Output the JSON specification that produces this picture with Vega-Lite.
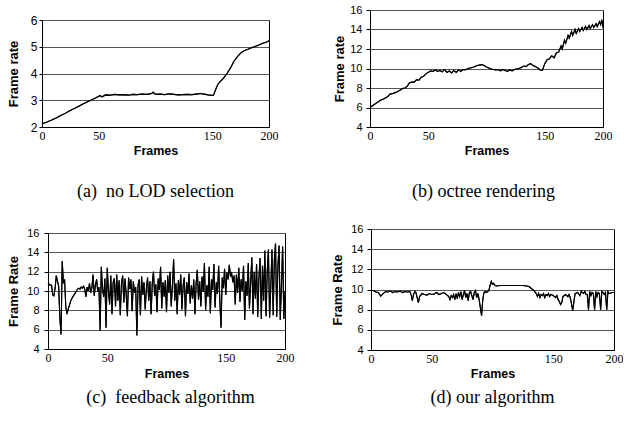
{
  "$schema": "https://vega.github.io/schema/vega-lite/v6.json",
  "background": "white",
  "padding": {"left": 6, "top": 4, "right": 0, "bottom": 5},
  "config": {
    "font": "Liberation Sans",
    "view": {"stroke": null},
    "axis": {"domainColor": "black", "domainWidth": 1, "tickColor": "black", "gridColor": "#555", "gridWidth": 1, "labelColor": "black", "titleColor": "black", "labelFlush": false},
    "axisX": {"labelFont": "Liberation Serif", "labelFontSize": 12, "titleFont": "Liberation Sans", "titleFontSize": 12.5, "titleFontWeight": "bold", "grid": false, "ticks": false, "tickSize": 0, "labelPadding": 3, "titleBaseline": "middle"},
    "axisY": {"labelFont": "Liberation Sans", "labelFontSize": 11, "titleFont": "Liberation Sans", "titleFontSize": 13, "titleFontWeight": "bold", "tickSize": 4, "labelPadding": 4},
    "title": {"font": "Liberation Serif", "fontSize": 18, "fontWeight": "normal", "color": "black", "anchor": "middle"},
    "line": {"color": "black", "strokeWidth": 1.1}
  },
  "datasets": {
    "a": [{"f":0,"v":2.12},{"f":4,"v":2.18},{"f":8,"v":2.25},{"f":12,"v":2.33},{"f":16,"v":2.42},{"f":20,"v":2.5},{"f":24,"v":2.6},{"f":28,"v":2.68},{"f":32,"v":2.77},{"f":36,"v":2.86},{"f":40,"v":2.94},{"f":44,"v":3.02},{"f":48,"v":3.1},{"f":51,"v":3.17},{"f":53,"v":3.13},{"f":56,"v":3.2},{"f":60,"v":3.19},{"f":64,"v":3.22},{"f":68,"v":3.2},{"f":72,"v":3.21},{"f":76,"v":3.19},{"f":80,"v":3.22},{"f":84,"v":3.21},{"f":88,"v":3.23},{"f":92,"v":3.22},{"f":96,"v":3.24},{"f":98,"v":3.3},{"f":100,"v":3.22},{"f":104,"v":3.23},{"f":108,"v":3.21},{"f":112,"v":3.24},{"f":116,"v":3.22},{"f":120,"v":3.2},{"f":124,"v":3.21},{"f":128,"v":3.22},{"f":132,"v":3.21},{"f":136,"v":3.23},{"f":140,"v":3.25},{"f":144,"v":3.22},{"f":148,"v":3.19},{"f":151,"v":3.18},{"f":153,"v":3.4},{"f":155,"v":3.6},{"f":157,"v":3.7},{"f":160,"v":3.83},{"f":163,"v":4.0},{"f":166,"v":4.2},{"f":169,"v":4.45},{"f":172,"v":4.62},{"f":175,"v":4.76},{"f":178,"v":4.85},{"f":181,"v":4.9},{"f":184,"v":4.95},{"f":187,"v":5.0},{"f":190,"v":5.05},{"f":193,"v":5.1},{"f":196,"v":5.15},{"f":198,"v":5.18},{"f":200,"v":5.22}],
    "b": [{"f":0,"v":6.0},{"f":3,"v":6.25},{"f":6,"v":6.5},{"f":9,"v":6.75},{"f":12,"v":6.9},{"f":15,"v":7.1},{"f":17,"v":7.35},{"f":20,"v":7.45},{"f":23,"v":7.6},{"f":26,"v":7.8},{"f":28,"v":7.95},{"f":30,"v":8.0},{"f":32,"v":8.2},{"f":34,"v":8.55},{"f":36,"v":8.6},{"f":38,"v":8.6},{"f":40,"v":8.85},{"f":42,"v":8.8},{"f":44,"v":9.1},{"f":46,"v":9.2},{"f":48,"v":9.45},{"f":50,"v":9.6},{"f":52,"v":9.75},{"f":54,"v":9.7},{"f":56,"v":9.85},{"f":58,"v":9.7},{"f":60,"v":9.8},{"f":62,"v":9.65},{"f":64,"v":9.9},{"f":66,"v":9.6},{"f":68,"v":9.75},{"f":70,"v":9.55},{"f":72,"v":9.8},{"f":74,"v":9.6},{"f":76,"v":9.85},{"f":78,"v":9.7},{"f":80,"v":9.9},{"f":82,"v":9.85},{"f":84,"v":10.0},{"f":86,"v":10.05},{"f":88,"v":10.1},{"f":90,"v":10.2},{"f":92,"v":10.3},{"f":94,"v":10.35},{"f":96,"v":10.4},{"f":98,"v":10.3},{"f":100,"v":10.15},{"f":102,"v":10.05},{"f":104,"v":9.95},{"f":106,"v":9.9},{"f":108,"v":9.85},{"f":110,"v":9.9},{"f":112,"v":9.75},{"f":114,"v":9.9},{"f":116,"v":9.8},{"f":118,"v":9.7},{"f":120,"v":9.85},{"f":122,"v":9.75},{"f":124,"v":9.9},{"f":126,"v":9.95},{"f":128,"v":10.0},{"f":130,"v":10.1},{"f":132,"v":10.25},{"f":134,"v":10.2},{"f":136,"v":10.4},{"f":138,"v":10.5},{"f":140,"v":10.3},{"f":142,"v":10.2},{"f":144,"v":10.05},{"f":146,"v":9.85},{"f":148,"v":9.8},{"f":150,"v":10.5},{"f":152,"v":10.9},{"f":154,"v":11.0},{"f":156,"v":11.3},{"f":158,"v":11.1},{"f":160,"v":11.6},{"f":162,"v":11.7},{"f":164,"v":12.3},{"f":165,"v":12.0},{"f":167,"v":12.9},{"f":168,"v":12.6},{"f":170,"v":13.4},{"f":171,"v":13.1},{"f":173,"v":13.8},{"f":174,"v":13.4},{"f":176,"v":14.0},{"f":177,"v":13.6},{"f":179,"v":14.1},{"f":180,"v":13.8},{"f":182,"v":14.2},{"f":183,"v":13.9},{"f":185,"v":14.3},{"f":186,"v":14.0},{"f":188,"v":14.4},{"f":189,"v":14.1},{"f":191,"v":14.5},{"f":192,"v":14.2},{"f":194,"v":14.6},{"f":195,"v":14.3},{"f":197,"v":14.8},{"f":198,"v":14.5},{"f":199,"v":15.0},{"f":200,"v":14.2}],
    "c": [{"f":0,"v":10.6},{"f":1,"v":10.7},{"f":2,"v":10.6},{"f":3,"v":10.6},{"f":4,"v":9.6},{"f":5,"v":9.5},{"f":6,"v":10.3},{"f":7,"v":11.6},{"f":8,"v":11.0},{"f":9,"v":10.5},{"f":10,"v":7.2},{"f":11,"v":5.5},{"f":12,"v":13.1},{"f":13,"v":10.8},{"f":14,"v":11.2},{"f":15,"v":8.4},{"f":16,"v":7.6},{"f":17,"v":8.1},{"f":18,"v":8.5},{"f":19,"v":8.9},{"f":20,"v":9.2},{"f":21,"v":9.4},{"f":22,"v":9.6},{"f":23,"v":9.8},{"f":24,"v":10.0},{"f":25,"v":10.2},{"f":26,"v":10.3},{"f":27,"v":10.2},{"f":28,"v":10.4},{"f":29,"v":10.3},{"f":30,"v":10.5},{"f":31,"v":10.2},{"f":32,"v":9.4},{"f":33,"v":10.4},{"f":34,"v":10.0},{"f":35,"v":10.8},{"f":36,"v":9.8},{"f":37,"v":10.3},{"f":38,"v":11.7},{"f":39,"v":9.5},{"f":40,"v":10.6},{"f":41,"v":11.2},{"f":42,"v":9.9},{"f":43,"v":10.4},{"f":44,"v":5.9},{"f":45,"v":12.5},{"f":46,"v":10.2},{"f":47,"v":9.4},{"f":48,"v":11.3},{"f":49,"v":6.2},{"f":50,"v":12.4},{"f":51,"v":10.0},{"f":52,"v":8.6},{"f":53,"v":11.6},{"f":54,"v":7.6},{"f":55,"v":10.9},{"f":56,"v":11.3},{"f":57,"v":8.4},{"f":58,"v":11.7},{"f":59,"v":9.0},{"f":60,"v":11.1},{"f":61,"v":7.5},{"f":62,"v":10.8},{"f":63,"v":11.6},{"f":64,"v":8.8},{"f":65,"v":11.3},{"f":66,"v":9.6},{"f":67,"v":7.4},{"f":68,"v":11.4},{"f":69,"v":10.2},{"f":70,"v":11.2},{"f":71,"v":7.9},{"f":72,"v":11.0},{"f":73,"v":9.8},{"f":74,"v":10.4},{"f":75,"v":5.4},{"f":76,"v":10.6},{"f":77,"v":11.2},{"f":78,"v":7.5},{"f":79,"v":11.5},{"f":80,"v":9.6},{"f":81,"v":10.9},{"f":82,"v":8.1},{"f":83,"v":10.2},{"f":84,"v":11.4},{"f":85,"v":9.0},{"f":86,"v":11.0},{"f":87,"v":7.6},{"f":88,"v":10.8},{"f":89,"v":12.0},{"f":90,"v":9.5},{"f":91,"v":10.7},{"f":92,"v":7.8},{"f":93,"v":11.3},{"f":94,"v":10.1},{"f":95,"v":12.5},{"f":96,"v":8.2},{"f":97,"v":10.9},{"f":98,"v":9.4},{"f":99,"v":11.1},{"f":100,"v":7.8},{"f":101,"v":11.6},{"f":102,"v":9.8},{"f":103,"v":12.0},{"f":104,"v":8.4},{"f":105,"v":10.6},{"f":106,"v":13.3},{"f":107,"v":9.0},{"f":108,"v":10.8},{"f":109,"v":7.6},{"f":110,"v":11.1},{"f":111,"v":9.6},{"f":112,"v":11.7},{"f":113,"v":8.1},{"f":114,"v":10.5},{"f":115,"v":11.4},{"f":116,"v":7.4},{"f":117,"v":10.9},{"f":118,"v":9.7},{"f":119,"v":11.8},{"f":120,"v":8.7},{"f":121,"v":10.6},{"f":122,"v":9.2},{"f":123,"v":11.2},{"f":124,"v":7.6},{"f":125,"v":10.8},{"f":126,"v":12.2},{"f":127,"v":9.1},{"f":128,"v":11.0},{"f":129,"v":8.4},{"f":130,"v":11.5},{"f":131,"v":9.9},{"f":132,"v":12.9},{"f":133,"v":8.0},{"f":134,"v":10.6},{"f":135,"v":9.4},{"f":136,"v":12.5},{"f":137,"v":7.7},{"f":138,"v":11.2},{"f":139,"v":10.1},{"f":140,"v":12.8},{"f":141,"v":8.3},{"f":142,"v":10.9},{"f":143,"v":9.7},{"f":144,"v":12.6},{"f":145,"v":9.0},{"f":146,"v":6.2},{"f":147,"v":11.4},{"f":148,"v":10.3},{"f":149,"v":12.3},{"f":150,"v":9.6},{"f":151,"v":11.9},{"f":152,"v":11.2},{"f":153,"v":12.7},{"f":154,"v":11.5},{"f":155,"v":11.8},{"f":156,"v":10.9},{"f":157,"v":11.6},{"f":158,"v":8.6},{"f":159,"v":11.7},{"f":160,"v":9.8},{"f":161,"v":12.4},{"f":162,"v":8.9},{"f":163,"v":11.2},{"f":164,"v":10.0},{"f":165,"v":12.6},{"f":166,"v":7.0},{"f":167,"v":11.0},{"f":168,"v":9.5},{"f":169,"v":12.9},{"f":170,"v":8.2},{"f":171,"v":10.8},{"f":172,"v":13.5},{"f":173,"v":7.6},{"f":174,"v":12.0},{"f":175,"v":9.2},{"f":176,"v":12.8},{"f":177,"v":7.3},{"f":178,"v":11.4},{"f":179,"v":13.4},{"f":180,"v":7.1},{"f":181,"v":12.6},{"f":182,"v":9.0},{"f":183,"v":14.2},{"f":184,"v":7.4},{"f":185,"v":12.0},{"f":186,"v":14.3},{"f":187,"v":7.2},{"f":188,"v":10.4},{"f":189,"v":14.3},{"f":190,"v":7.5},{"f":191,"v":13.2},{"f":192,"v":14.9},{"f":193,"v":7.3},{"f":194,"v":12.5},{"f":195,"v":14.7},{"f":196,"v":7.0},{"f":197,"v":10.6},{"f":198,"v":14.6},{"f":199,"v":7.1},{"f":200,"v":10.0}],
    "d": [{"f":0,"v":9.9},{"f":2,"v":9.9},{"f":4,"v":9.75},{"f":6,"v":9.7},{"f":8,"v":9.35},{"f":10,"v":9.6},{"f":12,"v":9.8},{"f":14,"v":9.75},{"f":16,"v":9.85},{"f":18,"v":9.7},{"f":20,"v":9.8},{"f":22,"v":9.75},{"f":24,"v":9.85},{"f":26,"v":9.7},{"f":28,"v":9.8},{"f":30,"v":9.75},{"f":32,"v":9.8},{"f":33,"v":9.5},{"f":34,"v":8.9},{"f":35,"v":9.5},{"f":36,"v":9.8},{"f":37,"v":9.7},{"f":38,"v":9.2},{"f":39,"v":8.7},{"f":40,"v":9.3},{"f":42,"v":9.6},{"f":44,"v":9.5},{"f":46,"v":9.45},{"f":48,"v":9.6},{"f":50,"v":9.5},{"f":52,"v":9.55},{"f":54,"v":9.7},{"f":56,"v":9.5},{"f":58,"v":9.6},{"f":60,"v":9.7},{"f":62,"v":9.5},{"f":64,"v":9.3},{"f":65,"v":9.0},{"f":66,"v":9.4},{"f":67,"v":9.2},{"f":68,"v":9.5},{"f":69,"v":9.0},{"f":70,"v":9.6},{"f":71,"v":9.1},{"f":72,"v":9.7},{"f":73,"v":9.3},{"f":74,"v":9.8},{"f":75,"v":9.0},{"f":76,"v":9.5},{"f":77,"v":9.9},{"f":78,"v":9.2},{"f":79,"v":9.6},{"f":80,"v":8.9},{"f":81,"v":9.7},{"f":82,"v":9.8},{"f":83,"v":9.4},{"f":84,"v":9.0},{"f":85,"v":9.7},{"f":86,"v":9.9},{"f":87,"v":9.2},{"f":88,"v":9.6},{"f":89,"v":9.0},{"f":90,"v":8.2},{"f":91,"v":7.4},{"f":92,"v":9.0},{"f":93,"v":9.7},{"f":94,"v":9.8},{"f":95,"v":9.7},{"f":96,"v":9.8},{"f":97,"v":9.9},{"f":98,"v":10.4},{"f":99,"v":10.8},{"f":100,"v":10.5},{"f":101,"v":10.6},{"f":102,"v":10.4},{"f":104,"v":10.35},{"f":106,"v":10.4},{"f":110,"v":10.4},{"f":115,"v":10.4},{"f":120,"v":10.4},{"f":125,"v":10.4},{"f":128,"v":10.35},{"f":130,"v":10.3},{"f":132,"v":10.1},{"f":134,"v":9.9},{"f":136,"v":9.6},{"f":137,"v":9.3},{"f":138,"v":9.6},{"f":139,"v":9.2},{"f":140,"v":9.5},{"f":141,"v":9.4},{"f":142,"v":9.6},{"f":143,"v":9.2},{"f":144,"v":9.5},{"f":145,"v":9.4},{"f":146,"v":9.6},{"f":147,"v":9.3},{"f":148,"v":9.5},{"f":150,"v":9.4},{"f":152,"v":9.2},{"f":153,"v":9.4},{"f":154,"v":9.0},{"f":155,"v":8.8},{"f":156,"v":8.5},{"f":157,"v":8.7},{"f":158,"v":9.3},{"f":160,"v":9.5},{"f":162,"v":9.3},{"f":163,"v":9.5},{"f":164,"v":9.2},{"f":165,"v":8.6},{"f":166,"v":7.9},{"f":167,"v":8.8},{"f":168,"v":9.6},{"f":170,"v":9.7},{"f":172,"v":9.4},{"f":173,"v":9.8},{"f":175,"v":9.6},{"f":176,"v":9.8},{"f":177,"v":9.5},{"f":178,"v":9.5},{"f":179,"v":8.0},{"f":180,"v":9.8},{"f":181,"v":9.4},{"f":182,"v":9.7},{"f":183,"v":9.6},{"f":184,"v":8.0},{"f":185,"v":9.8},{"f":186,"v":9.3},{"f":187,"v":9.7},{"f":188,"v":9.6},{"f":189,"v":8.0},{"f":190,"v":9.8},{"f":191,"v":9.7},{"f":192,"v":9.5},{"f":193,"v":9.7},{"f":194,"v":8.0},{"f":195,"v":9.8},{"f":196,"v":9.6},{"f":197,"v":9.6},{"f":198,"v":9.7},{"f":200,"v":9.7}]
  },
  "spacing": 22,
  "vconcat": [
    {
      "hconcat": [
        {
          "width": 227, "height": 117,
          "data": {"name": "a"},
          "title": {"text": "(a)\u00a0 no LOD selection", "orient": "bottom", "baseline": "top", "offset": 26},
          "encoding": {
            "x": {"field": "f", "type": "quantitative", "scale": {"domain": [0, 200], "nice": false, "zero": false}, "axis": {"values": [0, 50, 150, 200], "title": "Frames", "titleY": 23}},
            "y": {"field": "v", "type": "quantitative", "scale": {"domain": [2, 6], "nice": false, "zero": false, "range": [117, 10]}, "axis": {"values": [2, 3, 4, 5, 6], "title": "Frame rate", "titleX": -22, "labelFontSize": 12, "tickSize": 3, "labelPadding": 2}}
          },
          "layer": [
            {"mark": {"type": "line"}},
            {"mark": {"type": "line"}, "encoding": {"y": {"field": "v", "type": "quantitative", "scale": {"domain": [2, 6], "nice": false, "zero": false, "range": [117, 10]}, "axis": {"orient": "right", "labels": false, "ticks": false, "grid": false, "title": null, "domain": true}}}}
          ],
          "resolve": {"axis": {"y": "independent"}}
        },
        {
          "width": 233, "height": 117,
          "data": {"name": "b"},
          "title": {"text": "(b) octree rendering", "orient": "bottom", "baseline": "top", "offset": 26, "dx": -3},
          "encoding": {
            "x": {"field": "f", "type": "quantitative", "scale": {"domain": [0, 200], "nice": false, "zero": false}, "axis": {"values": [0, 50, 150, 200], "title": "Frames", "titleY": 23}},
            "y": {"field": "v", "type": "quantitative", "scale": {"domain": [4, 16], "nice": false, "zero": false}, "axis": {"values": [4, 6, 8, 10, 12, 14, 16], "title": "Frame rate", "titleX": -24}}
          },
          "layer": [
            {"mark": {"type": "line"}},
            {"mark": {"type": "line"}, "encoding": {"y": {"field": "v", "type": "quantitative", "scale": {"domain": [4, 16], "nice": false, "zero": false}, "axis": {"orient": "right", "labels": false, "ticks": false, "grid": false, "title": null, "domain": true}}}}
          ],
          "resolve": {"axis": {"y": "independent"}}
        }
      ],
      "spacing": 55
    },
    {
      "hconcat": [
        {
          "width": 243, "height": 120,
          "data": {"name": "c"},
          "title": {"text": "(c)\u00a0 feedback algorithm", "orient": "bottom", "baseline": "top", "offset": 9, "dx": 7},
          "encoding": {
            "x": {"field": "f", "type": "quantitative", "scale": {"domain": [0, 200], "nice": false, "zero": false, "range": [6, 243]}, "axis": {"values": [0, 50, 150, 200], "title": "Frames", "titleY": 24}},
            "y": {"field": "v", "type": "quantitative", "scale": {"domain": [4, 16], "nice": false, "zero": false, "range": [120, 4]}, "axis": {"values": [4, 6, 8, 10, 12, 14, 16], "title": "Frame Rate", "titleX": -28, "labelPadding": 5, "offset": -6}}
          },
          "layer": [
            {"mark": {"type": "line"}},
            {"mark": {"type": "line"}, "encoding": {"y": {"field": "v", "type": "quantitative", "scale": {"domain": [4, 16], "nice": false, "zero": false, "range": [120, 4]}, "axis": {"orient": "right", "labels": false, "ticks": false, "grid": false, "title": null, "domain": true}}}}
          ],
          "resolve": {"axis": {"y": "independent"}}
        },
        {
          "width": 243, "height": 121,
          "data": {"name": "d"},
          "title": {"text": "(d) our algorithm", "orient": "bottom", "baseline": "top", "offset": 9},
          "encoding": {
            "x": {"field": "f", "type": "quantitative", "scale": {"domain": [0, 200], "nice": false, "zero": false}, "axis": {"values": [0, 50, 150, 200], "title": "Frames", "titleY": 23}},
            "y": {"field": "v", "type": "quantitative", "scale": {"domain": [4, 16], "nice": false, "zero": false}, "axis": {"values": [4, 6, 8, 10, 12, 14, 16], "title": "Frame Rate", "titleX": -27}}
          },
          "layer": [
            {"mark": {"type": "line"}},
            {"mark": {"type": "line"}, "encoding": {"y": {"field": "v", "type": "quantitative", "scale": {"domain": [4, 16], "nice": false, "zero": false}, "axis": {"orient": "right", "labels": false, "ticks": false, "grid": false, "title": null, "domain": true}}}}
          ],
          "resolve": {"axis": {"y": "independent"}}
        }
      ],
      "spacing": 36
    }
  ]
}
